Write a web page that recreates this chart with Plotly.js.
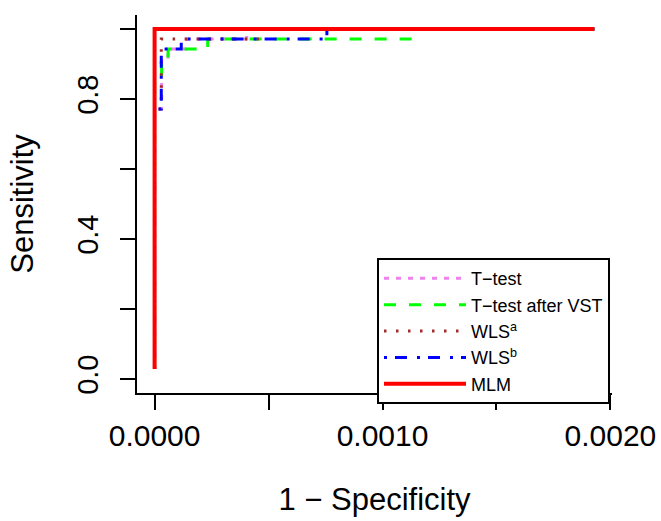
<!DOCTYPE html>
<html>
<head>
<meta charset="utf-8">
<script src="https://cdn.plot.ly/plotly-3.0.1.min.js"></script>
<style>html,body{margin:0;padding:0;background:#fff;}#chart{width:661px;height:521px;}</style>
</head>
<body>
<div id="chart"></div>
<script>
// Series names
const seriesNames = ["T\u2212test", "T\u2212test after VST", "WLS<sup>a</sup>", "WLS<sup>b</sup>", "MLM"];

// 1 - Specificity (x) and Sensitivity (y) per series (step ROC curves)
const xTtest = [0, 0, 0.0000308, 0.0000308, 0.000059, 0.000059, 0.00014, 0.00014, 0.000404, 0.000404, 0.00193];
const yTtest = [0.0286, 0.7714, 0.7714, 0.9143, 0.9143, 0.9429, 0.9429, 0.9714, 0.9714, 1, 1];

const xVST = [0, 0, 0.0000308, 0.0000308, 0.000059, 0.000059, 0.000233, 0.000233, 0.00115, 0.00115, 0.00193];
const yVST = [0.0286, 0.8571, 0.8571, 0.9143, 0.9143, 0.9429, 0.9429, 0.9714, 0.9714, 1, 1];

const xWLSa = [0, 0, 0.0000293, 0.0000293, 0.00046, 0.00046, 0.00193];
const yWLSa = [0.0286, 0.7714, 0.7714, 0.9714, 0.9714, 1, 1];

const xWLSb = [0, 0, 0.0000293, 0.0000293, 0.000117, 0.000117, 0.000756, 0.000756, 0.00193];
const yWLSb = [0.0286, 0.7714, 0.7714, 0.9429, 0.9429, 0.9714, 0.9714, 1, 1];

const xMLM = [0, 0, 0.00193];
const yMLM = [0.0286, 1, 1];

// Tick values / labels
const xTickVals = [0, 0.0005, 0.001, 0.0015, 0.002];
const xTickText = ["0.0000", "", "0.0010", "", "0.0020"];
const yTickVals = [0, 0.2, 0.4, 0.6, 0.8, 1.0];
const yTickText = ["0.0", "", "0.4", "", "0.8", ""];

const FONT = "Liberation Sans, Arial, Helvetica, sans-serif";

const traces = [
  {x: xTtest, y: yTtest, name: seriesNames[0], mode: "lines",
   line: {color: "#EE82EE", width: 3, dash: "5px,7px"}},
  {x: xVST, y: yVST, name: seriesNames[1], mode: "lines",
   line: {color: "#00FF00", width: 3, dash: "12px,13px"}},
  {x: xWLSa, y: yWLSa, name: seriesNames[2], mode: "lines",
   line: {color: "#A52A2A", width: 3, dash: "2.5px,9.5px"}},
  {x: xWLSb, y: yWLSb, name: seriesNames[3], mode: "lines",
   line: {color: "#0000FF", width: 3, dash: "3px,8px,12px,10px"}},
  {x: xMLM, y: yMLM, name: seriesNames[4], mode: "lines",
   line: {color: "#FF0000", width: 4}}
];

const layout = {
  width: 661, height: 521,
  margin: {l: 137, r: 49, t: 15, b: 128},
  paper_bgcolor: "#fff", plot_bgcolor: "#fff",
  font: {family: FONT, color: "#000", size: 30},
  showlegend: true,
  legend: {
    x: 0.9958, xanchor: "right", y: 0.357, yanchor: "top",
    bgcolor: "#fff", bordercolor: "#000", borderwidth: 2,
    font: {family: FONT, size: 18, color: "#000"},
    itemwidth: 82,
    tracegroupgap: 0
  },
  xaxis: {
    range: [-0.0000772, 0.002007],
    tickmode: "array", tickvals: xTickVals, ticktext: xTickText,
    ticks: "outside", ticklen: 15, tickwidth: 2, tickcolor: "#000",
    showline: true, linecolor: "#000", linewidth: 2,
    showgrid: false, zeroline: false,
    tickfont: {family: FONT, size: 30},
    title: {text: "1 \u2212 Specificity", font: {family: FONT, size: 31}, standoff: 37}
  },
  yaxis: {
    range: [-0.04, 1.04],
    tickmode: "array", tickvals: yTickVals, ticktext: yTickText,
    ticks: "outside", ticklen: 15, tickwidth: 2, tickcolor: "#000",
    tickangle: -90, ticklabelstandoff: 10,
    showline: true, linecolor: "#000", linewidth: 2,
    showgrid: false, zeroline: false,
    tickfont: {family: FONT, size: 29},
    title: {text: "Sensitivity", font: {family: FONT, size: 31}, standoff: 30}
  }
};

Plotly.newPlot("chart", traces, layout, {displayModeBar: false, staticPlot: true});
</script>
</body>
</html>
